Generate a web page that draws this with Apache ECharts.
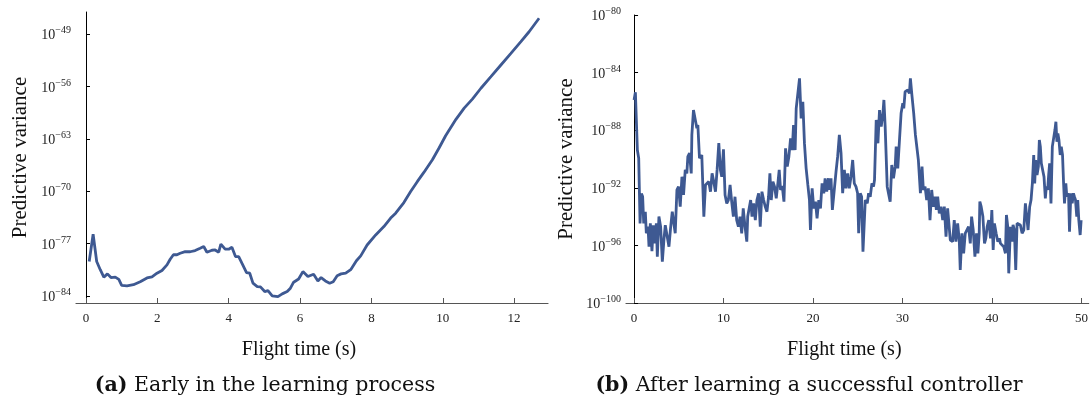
<!DOCTYPE html>
<html>
<head>
<meta charset="utf-8">
<script src="https://cdn.jsdelivr.net/npm/echarts@6/dist/echarts.min.js"></script>
<style>
  html, body { margin: 0; padding: 0; background: #fff; }
  #chart { width: 1091px; height: 401px; }
</style>
</head>
<body>
<div id="chart"></div>
<script>
// Panel (a): flight time (s) and log10 of the predictive variance
const timeA = [0.09,0.2,0.3,0.4,0.5,0.6,0.7,0.82,0.92,1.0,
  1.15,1.33,1.52,1.71,1.85,1.99,2.13,2.27,2.36,2.45,
  2.55,2.64,2.78,2.92,3.06,3.2,3.3,3.39,3.53,3.62,
  3.72,3.78,3.9,4.0,4.09,4.19,4.28,4.37,4.5,4.59,
  4.68,4.8,4.89,5.01,5.1,5.22,5.38,5.5,5.64,5.73,
  5.82,5.96,6.08,6.22,6.38,6.5,6.59,6.71,6.83,6.93,
  7.04,7.15,7.28,7.42,7.58,7.7,7.88,8.12,8.35,8.54,
  8.68,8.91,9.1,9.29,9.47,9.71,9.9,10.08,10.37,10.6,
  10.83,11.07,11.35,11.63,11.91,12.19,12.42,12.7];
const logVarA = [-79.4,-75.76,-79.4,-80.5,-81.5,-81.06,-81.55,-81.5,-81.8,-82.6,
  -82.65,-82.5,-82.1,-81.6,-81.45,-80.97,-80.6,-79.86,-79.1,-78.5,
  -78.5,-78.3,-78.08,-78.1,-77.94,-77.63,-77.4,-78.16,-77.9,-77.86,
  -78.16,-77.09,-77.76,-77.76,-77.5,-78.75,-78.75,-79.63,-80.88,-80.97,
  -82.3,-82.75,-82.8,-83.42,-83.3,-84.0,-84.1,-83.73,-83.42,-82.97,
  -82.17,-81.75,-80.75,-81.4,-81.1,-82.0,-81.55,-82.0,-82.3,-82.1,
  -81.3,-81.06,-80.97,-80.5,-79.3,-78.65,-77.2,-75.85,-74.74,-73.6,
  -72.95,-71.53,-70.06,-68.7,-67.5,-65.8,-64.2,-62.6,-60.4,-58.9,
  -57.7,-56.25,-54.7,-53.14,-51.6,-50.03,-48.7,-46.9];

// Panel (b): flight time (s) and log10 of the predictive variance
const timeB = [0,0.15,0.26,0.37,0.52,0.67,0.82,0.96,1.08,1.26,
  1.37,1.56,1.67,1.82,2.0,2.15,2.3,2.49,2.6,2.78,
  2.97,3.16,3.34,3.49,3.71,3.9,4.08,4.27,4.42,4.6,
  4.79,4.97,5.16,5.35,5.53,5.72,5.9,6.01,6.2,6.39,
  6.46,6.64,6.83,7.02,7.13,7.31,7.57,7.8,7.98,8.17,
  8.35,8.54,8.72,8.87,9.1,9.28,9.47,9.65,9.8,9.99,
  10.17,10.36,10.54,10.73,10.91,11.1,11.28,11.47,11.66,11.84,
  12.03,12.2,12.4,12.6,12.7,
  13.03,13.18,13.36,13.55,13.73,13.92,14.1,14.29,14.48,14.66,
  14.85,15.03,15.18,15.33,15.52,15.7,15.89,16.07,16.22,16.37,
  16.56,16.75,16.93,17.12,17.3,17.49,17.68,17.82,18.0,18.12,
  18.3,18.49,18.67,18.86,19.04,19.23,19.42,19.6,19.71,19.9,
  20.08,20.27,20.45,20.64,20.83,21.01,21.2,21.35,21.53,21.72,
  21.86,22.01,22.16,22.38,22.57,22.75,22.94,23.13,23.31,23.5,
  23.68,23.87,24.05,24.24,24.43,24.61,24.8,24.98,25.1,25.28,
  25.43,25.58,
  25.84,26.06,26.21,26.39,26.58,26.76,26.87,27.06,27.25,27.43,
  27.62,27.81,27.92,28.06,28.29,28.43,28.62,28.8,28.99,29.18,
  29.29,29.47,29.66,29.84,30.03,30.14,30.29,30.48,30.59,30.77,
  30.88,31.03,31.25,31.44,31.63,31.77,32.0,32.18,32.33,32.52,
  32.7,32.89,33.07,33.26,33.45,33.63,33.78,33.93,34.11,34.3,
  34.49,34.67,34.86,35.04,35.23,35.34,35.6,35.78,35.97,36.16,
  36.34,36.45,36.64,36.83,37.01,37.2,37.38,37.57,37.72,37.9,
  38.09,38.27,38.42,38.57,38.64,38.79,38.98,39.16,39.31,39.46,
  39.64,39.83,39.98,40.13,40.27,40.46,40.65,40.83,40.94,41.13,
  41.31,41.5,41.61,41.76,41.87,42.06,42.24,42.35,42.5,42.65,
  42.8,42.99,43.17,43.36,43.55,43.73,43.92,44.03,44.21,44.36,
  44.51,44.66,44.77,44.88,45.03,45.18,45.29,45.4,45.51,45.66,
  45.81,45.96,46.07,46.22,46.33,46.44,46.59,46.74,46.88,47.03,
  47.14,47.25,47.36,47.48,47.62,47.74,47.88,47.99,48.1,48.25,
  48.36,48.55,48.66,48.81,48.96,49.1,49.21,49.33,49.47,49.58,
  49.7,49.85,49.96];
const logVarB = [-85.9,-85.37,-85.37,-89.38,-89.95,-94.47,-92.4,-92.6,-94.47,-93.66,
  -95.16,-94.7,-96.09,-94.47,-96.4,-94.6,-95.86,-94.47,-96.78,-94.0,
  -94.7,-97.13,-95.6,-94.6,-94.6,-96.09,-94.8,-93.66,-93.54,-95.16,
  -92.15,-91.92,-93.31,-91.23,-92.5,-90.76,-91.0,-89.84,-89.6,-91.0,
  -88.33,-86.6,-86.6,-87.87,-87.64,-89.95,-89.72,-94.0,-91.8,-91.69,
  -91.57,-92.27,-91.0,-91.46,-92.27,-90.76,-88.9,-90.76,-91.23,-89.33,
  -92.5,-93.08,-92.85,-91.8,-92.96,-94.0,-92.62,-94.24,-94.7,-94.0,
  -95.16,-93.43,-94.7,-95.74,-94.0,
  -92.85,-94.0,-93.08,-94.24,-92.85,-92.38,-94.7,-92.27,-92.85,-93.31,
  -93.66,-92.62,-91.0,-92.85,-91.57,-91.92,-92.73,-91.69,-90.76,-92.15,
  -91.87,-92.96,-89.26,-90.53,-89.84,-88.56,-89.38,-87.64,-89.38,-86.48,
  -86.37,-84.4,-87.18,-86.02,-88.9,-90.65,-91.8,-92.85,-94.93,-92.04,
  -93.43,-92.96,-94.12,-92.85,-93.43,-91.69,-92.38,-91.34,-92.27,-91.34,
  -92.15,-91.34,-93.54,-93.54,-90.88,-89.84,-88.33,-89.6,-92.38,-90.76,
  -92.04,-91.0,-92.04,-91.23,-90.07,-91.69,-91.92,-92.38,-95.16,-92.38,
  -92.62,-96.44,
  -92.85,-93.08,-92.38,-92.62,-91.69,-91.92,-91.46,-87.29,-88.91,-86.6,
  -87.75,-86.83,-85.9,-87.75,-91.92,-92.38,-92.96,-90.42,-91.34,-90.53,
  -89.14,-90.65,-88.68,-86.83,-86.13,-86.48,-85.32,-85.44,-85.21,-85.44,
  -84.4,-85.44,-86.83,-88.33,-88.45,-90.07,-92.38,-90.53,-92.15,-91.92,
  -92.85,-92.04,-94.24,-92.15,-93.31,-92.62,-93.54,-92.62,-93.77,-93.31,
  -94.24,-93.31,-95.39,-93.43,-93.54,-95.63,-95.74,-94.24,-95.74,-94.47,
  -95.63,-97.71,-95.16,-96.55,-95.16,-95.16,-94.7,-95.86,-94.0,-94.93,
  -96.78,-95.16,-96.55,-95.16,-92.96,-93.31,-94.0,-95.86,-95.51,-94.7,
  -94.24,-95.51,-93.54,-96.32,-94.47,-95.16,-95.74,-95.51,-95.86,-95.86,
  -96.09,-96.55,-93.89,-94.7,-97.94,-94.7,-95.74,-94.58,-94.93,-97.71,
  -94.47,-94.47,-94.58,-95.16,-94.93,-93.08,-93.08,-94.93,-93.31,-92.85,
  -91.69,-89.72,-91.69,-90.07,-91.11,-90.53,-88.68,-89.14,-90.3,-90.3,
  -91.23,-92.73,-91.92,-92.15,-91.11,-90.3,-93.08,-89.14,-89.03,-87.99,
  -87.41,-88.8,-88.22,-88.68,-89.72,-89.14,-89.72,-91.57,-93.08,-91.69,
  -92.62,-92.38,-95.05,-92.38,-93.08,-92.38,-92.62,-92.85,-94.0,-92.85,
  -94.24,-95.28,-94.24];

// Tick positions
const xTicksA = [0, 2, 4, 6, 8, 10, 12];
const yTicksA = [-84, -77, -70, -63, -56, -49];
const xTicksB = [0, 10, 20, 30, 40, 50];

const SERIF = '"Liberation Serif", "Times New Roman", serif';
const CAPTION_FONT = '"DejaVu Serif", serif';
const LINE_COLOR = '#3e5992';
const AXIS_GRAY = '#555';

function zip(xs, ys) { return xs.map((x, i) => [x, ys[i]]); }

// Power-of-ten tick labels: "10" with a raised exponent
function powerLabel(v) {
  const e = Math.round(v);
  return '{b|10}{s|' + (e < 0 ? '\u2212' : '') + Math.abs(e) + '}';
}
const powerRich = {
  b: { fontFamily: SERIF, fontSize: 14, color: '#222', lineHeight: 17, verticalAlign: 'bottom' },
  s: { fontFamily: SERIF, fontSize: 10, color: '#222', lineHeight: 17, verticalAlign: 'top' }
};

function xAxisCfg(grid, min, max, ticks) {
  return {
    type: 'value', gridIndex: grid, min: min, max: max,
    axisLine: { show: true, lineStyle: { color: AXIS_GRAY, width: 1.2 } },
    axisTick: { show: true, inside: true, length: 5, customValues: ticks,
                lineStyle: { color: AXIS_GRAY, width: 1 } },
    axisLabel: { customValues: ticks, margin: 9, fontFamily: SERIF, fontSize: 13, color: '#222' },
    splitLine: { show: false },
    name: 'Flight time (s)', nameLocation: 'middle', nameGap: 37,
    nameTextStyle: { fontFamily: SERIF, fontSize: 20, color: '#111', padding: [0, 26, 0, 0] }
  };
}

function yAxisCfg(grid, extra, gap) {
  return Object.assign({
    type: 'value', gridIndex: grid,
    axisLine: { show: true, lineStyle: { color: '#000', width: 1 } },
    axisTick: { show: true, inside: true, length: 4, lineStyle: { color: '#000', width: 1 } },
    axisLabel: { margin: 5, formatter: powerLabel, rich: powerRich },
    splitLine: { show: false },
    name: 'Predictive variance', nameLocation: 'middle', nameRotate: 90, nameGap: gap,
    nameTextStyle: { fontFamily: SERIF, fontSize: 21, color: '#111' }
  }, extra);
}

const captionRich = {
  b: { fontFamily: CAPTION_FONT, fontWeight: 'bold', fontSize: 20.5, fill: '#111' },
  r: { fontFamily: CAPTION_FONT, fontSize: 20.5, fill: '#111' }
};

const chart = echarts.init(document.getElementById('chart'), null, { renderer: 'canvas' });
chart.setOption({
  animation: false,
  backgroundColor: '#fff',
  grid: [
    { left: 76, top: 12, width: 472, height: 291 },
    { left: 626, top: 15, width: 464, height: 288 }
  ],
  xAxis: [
    xAxisCfg(0, -0.28, 12.95, xTicksA),
    xAxisCfg(1, -0.9, 50.8, xTicksB)
  ],
  yAxis: [
    yAxisCfg(0, {
      min: -84.95, max: -46.06,
      axisTick: { show: true, inside: true, length: 4, customValues: yTicksA,
                  lineStyle: { color: '#000', width: 1 } },
      axisLabel: { margin: 5, customValues: yTicksA, formatter: powerLabel, rich: powerRich }
    }, 45),
    yAxisCfg(1, { min: -100, max: -80, interval: 4 }, 49)
  ],
  series: [
    { type: 'line', xAxisIndex: 0, yAxisIndex: 0, data: zip(timeA, logVarA),
      showSymbol: false, lineStyle: { color: LINE_COLOR, width: 2.8 } },
    { type: 'line', xAxisIndex: 1, yAxisIndex: 1, data: zip(timeB, logVarB),
      showSymbol: false, lineStyle: { color: LINE_COLOR, width: 2.8 } }
  ],
  graphic: [
    { type: 'text', x: 265, y: 386,
      style: { text: '{b|(a)} {r|Early in the learning process}', rich: captionRich,
               font: '20.5px "DejaVu Serif", serif', align: 'center', verticalAlign: 'middle' } },
    { type: 'text', x: 809, y: 386,
      style: { text: '{b|(b)} {r|After learning a successful controller}', rich: captionRich,
               font: '20.5px "DejaVu Serif", serif', align: 'center', verticalAlign: 'middle' } }
  ]
});
</script>
</body>
</html>
